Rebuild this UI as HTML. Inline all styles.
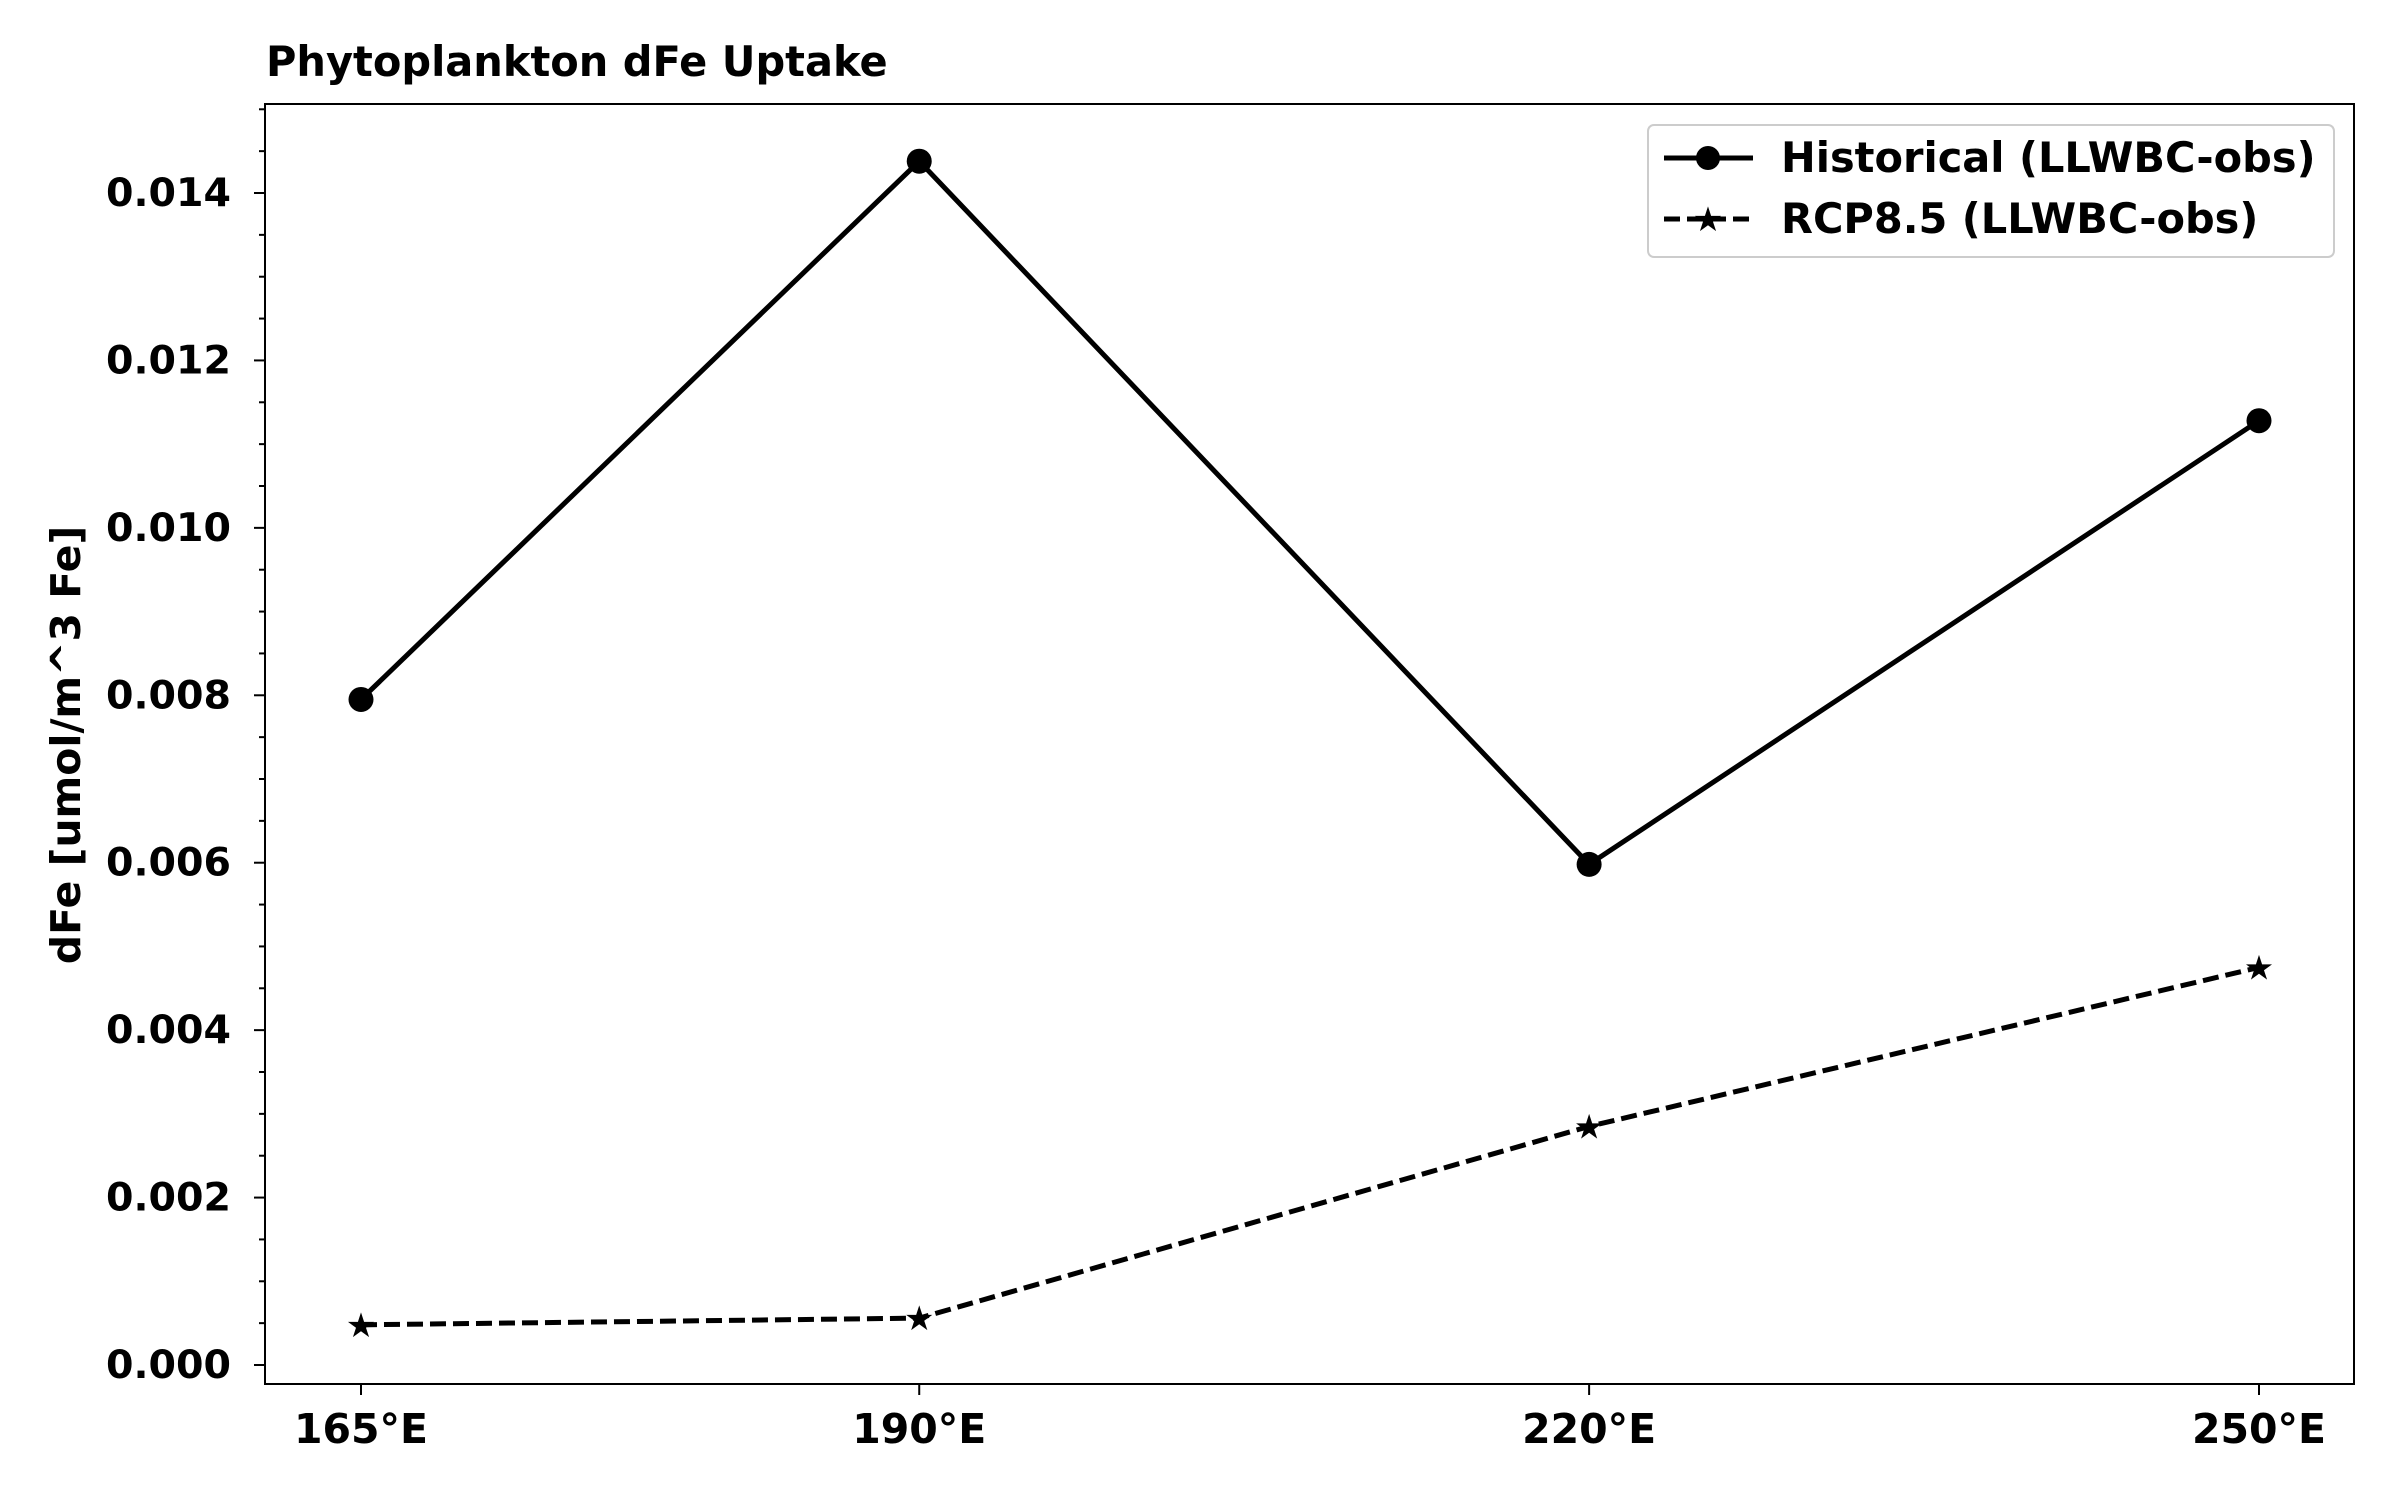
<!DOCTYPE html>
<html><head><meta charset="utf-8"><style>
html,body{margin:0;padding:0;background:#fff;}
svg{display:block;font-family:"DejaVu Sans","Liberation Sans",sans-serif;font-weight:bold;}
</style></head><body>
<svg id="chart" width="2400" height="1500" viewBox="0 0 2400 1500">
<rect x="0" y="0" width="2400" height="1500" fill="#fff"/>
<text x="266" y="76" font-size="41.5">Phytoplankton dFe Uptake</text>
<text transform="translate(80,745) rotate(-90)" text-anchor="middle" font-size="41">dFe [umol/m^3 Fe]</text>
<g id="axes"></g>
<g id="series"></g>
<g>
<rect x="1648" y="125" width="686" height="132" rx="6" fill="#fff" stroke="#ccc" stroke-width="2"/>
<line x1="1664" y1="158" x2="1753" y2="158" stroke="#000" stroke-width="5"/>
<circle cx="1708" cy="158" r="12" fill="#000"/>
<text x="1781" y="172" font-size="41.5">Historical (LLWBC-obs)</text>
<line x1="1664" y1="219" x2="1753" y2="219" stroke="#000" stroke-width="5" stroke-dasharray="16,7"/>
<text x="1708" y="231" font-size="34" text-anchor="middle">★</text>
<text x="1781" y="233" font-size="41.5">RCP8.5 (LLWBC-obs)</text>
</g>
</svg>
<script>
const categories = [165, 190, 220, 250];
const categoryLabels = ["165°E", "190°E", "220°E", "250°E"];
const historical = [0.00795, 0.01438, 0.00598, 0.01128];
const rcp85 = [0.00048, 0.00056, 0.00285, 0.00475];
const yTicks = [0, 0.002, 0.004, 0.006, 0.008, 0.010, 0.012, 0.014];
const yTickLabels = ["0.000","0.002","0.004","0.006","0.008","0.010","0.012","0.014"];

const NS = "http://www.w3.org/2000/svg";
const L = 265, R = 2354, T = 104, B = 1384;
function xs(lon){ return 361 + (lon - 165) * (2259 - 361) / 85; }
function ys(v){ return 1365 - v / 0.014 * (1365 - 193); }
function mk(tag, attrs, parent){ const e = document.createElementNS(NS, tag); for (const k in attrs) e.setAttribute(k, attrs[k]); parent.appendChild(e); return e; }

const axes = document.getElementById('axes');
const frame = mk('rect', {x:L, y:T, width:R-L, height:B-T, fill:'none', stroke:'#000', 'stroke-width':2}, axes);


for (let v = 0; v <= 0.0151; v += 0.0005) {
  const y = ys(v);
  if (y < T) break;
  const major = Math.abs((v / 0.002) - Math.round(v / 0.002)) < 1e-6;
  const t = mk('line', {x1:L, x2:L - (major ? 11 : 6), y1:y, y2:y, stroke:'#000', 'stroke-width':2}, axes);
  
  
}
yTicks.forEach((v, i) => {
  const tx = mk('text', {x:L - 34, y:ys(v) + 13, 'text-anchor':'end', 'font-size':39.5}, axes);
  tx.textContent = yTickLabels[i];
  
  
});
categories.forEach((c, i) => {
  const x = xs(c);
  const t = mk('line', {x1:x, x2:x, y1:B, y2:B + 11, stroke:'#000', 'stroke-width':2}, axes);
  
  
  const tx = mk('text', {x:x, y:B + 59, 'text-anchor':'middle', 'font-size':41}, axes);
  tx.textContent = categoryLabels[i];
  
  
});

const series = document.getElementById('series');
const hp = categories.map((c, i) => xs(c) + ',' + ys(historical[i])).join(' ');
const hl = mk('polyline', {points:hp, fill:'none', stroke:'#000', 'stroke-width':5, 'stroke-linejoin':'miter'}, series);


categories.forEach((c, i) => {
  const p = mk('circle', {cx:xs(c), cy:ys(historical[i]), r:12.5, fill:'#000'}, series);
  
  
});
const rp = categories.map((c, i) => xs(c) + ',' + ys(rcp85[i])).join(' ');
const rl = mk('polyline', {points:rp, fill:'none', stroke:'#000', 'stroke-width':5, 'stroke-dasharray':'16,7'}, series);


categories.forEach((c, i) => {
  const s = mk('text', {x:xs(c), y:ys(rcp85[i]) + 12, 'text-anchor':'middle', 'font-size':34}, series);
  s.textContent = '★';
  
  
});
</script>
</body></html>
